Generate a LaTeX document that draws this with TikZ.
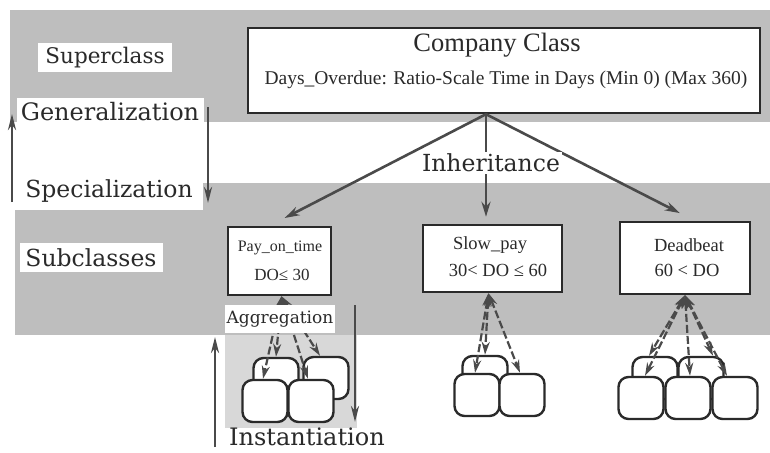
\documentclass[tikz,border=0pt]{standalone}
\usepackage{fontspec}
\setmainfont{Liberation Serif}
\newfontfamily\slabfont{DejaVu Serif}
\usetikzlibrary{arrows.meta}
\definecolor{ink}{HTML}{2A2A2A}
\definecolor{wire}{HTML}{4A4A4A}
\definecolor{halftone}{HTML}{BEBEBE}
\definecolor{halftonelight}{HTML}{D8D8D8}
\tikzset{
  classbox/.style={draw=ink, line width=2.4pt, fill=white, inner sep=0pt},
  boxtext/.style={text=ink, inner sep=0pt, font=\fontsize{18.5}{21}\selectfont},
  sidelabel/.style={font=\slabfont\fontsize{23.5}{27}\selectfont, fill=white, inner sep=0pt, text=ink},
  instbox/.style={draw=ink, line width=2.4pt, fill=white, rounded corners=10pt,
    minimum width=45pt, minimum height=42pt, inner sep=0pt},
  wirearrow/.style={draw=wire, line width=2.6pt, -{Stealth[length=15pt,width=9pt]}},
  sidearrow/.style={draw=wire, line width=2.8pt, -{Stealth[length=16pt,width=8pt]}},
  instarrow/.style={draw=wire, line width=2.2pt, dash pattern=on 8pt off 3pt,
    {Stealth[length=13pt,width=8pt]}-{Stealth[length=13pt,width=8pt]}},
}
\begin{document}
\begin{tikzpicture}[x=1pt,y=-1pt]
\useasboundingbox (0,0) rectangle (770,452);

% shaded bands for the two class levels and the instance area
\fill[halftone] (10,10) rectangle (770,122);
\fill[halftone] (15,183) rectangle (770,335);
\fill[halftonelight] (225,335) rectangle (357,428);

% superclass
\node[classbox, minimum width=512pt, minimum height=85pt] (company) at (504,70.5) {};
\node[boxtext, font=\fontsize{26.5}{30}\selectfont] (cname) at (497,45) {Company Class};
\node[boxtext, font=\fontsize{19.5}{22}\selectfont] (cattr) at (506,80)
  {Days\_Overdue: Ratio-Scale Time in Days (Min 0) (Max 360)};

% subclasses
\node[classbox, minimum width=103pt, minimum height=68pt] (pay) at (279.5,261) {};
\node[boxtext, font=\fontsize{16}{18}\selectfont] (paya) at (280,248) {Pay\_on\_time};
\node[boxtext, font=\fontsize{17}{19}\selectfont] (payb) at (282,275) {DO≤ 30};

\node[classbox, minimum width=139pt, minimum height=67pt] (slow) at (492.5,258.5) {};
\node[boxtext] (slowa) at (490,245) {Slow\_pay};
\node[boxtext] (slowb) at (498,270) {30< DO ≤ 60};

\node[classbox, minimum width=130pt, minimum height=72pt] (dead) at (685,258) {};
\node[boxtext] (deada) at (689,245) {Deadbeat};
\node[boxtext] (deadb) at (687,270) {60 < DO};

% instances: back row first, front row over it
\node[instbox] (pb1) at (276,379) {};
\node[instbox] (pb2) at (326,378) {};
\node[instbox] (pf1) at (265,401) {};
\node[instbox] (pf2) at (311,401) {};

\node[instbox] (sb1) at (485,377) {};
\node[instbox] (sf1) at (477,395) {};
\node[instbox] (sf2) at (522,395) {};

\node[instbox] (db1) at (655,378) {};
\node[instbox] (db2) at (701,378) {};
\node[instbox] (df1) at (641,398) {};
\node[instbox] (df2) at (688,398) {};
\node[instbox] (df3) at (735,398) {};

% inheritance
\coordinate (fork) at ([xshift=-18pt]company.south);
\draw[wirearrow, shorten >=17pt] (fork) -- ([xshift=-10pt]pay.north);
\draw[wirearrow, shorten >=7pt] (fork) -- ([xshift=-6.5pt]slow.north);
\draw[wirearrow, shorten >=17pt] (fork) -- ([xshift=10pt]dead.north);

% aggregation / instantiation links
\draw[instarrow] ([xshift=2pt]pay.south) -- ([xshift=-2pt]pf1.north);
\draw[instarrow] ([xshift=2pt]pay.south) -- (pb1.north);
\draw[instarrow] ([xshift=2pt]pay.south) -- ([xshift=-3pt]pf2.north);
\draw[instarrow] ([xshift=2pt]pay.south) -- ([xshift=-6pt]pb2.north);

\draw[instarrow] ([xshift=-4pt]slow.south) -- ([xshift=-2pt]sf1.north);
\draw[instarrow] ([xshift=-4pt]slow.south) -- (sb1.north);
\draw[instarrow] ([xshift=-4pt]slow.south) -- ([xshift=-2pt]sf2.north);

\draw[instarrow] (dead.south) -- ([xshift=4pt]df1.north);
\draw[instarrow] (dead.south) -- ([xshift=2pt]df2.north);
\draw[instarrow] (dead.south) -- ([xshift=-8pt]df3.north);
\draw[instarrow] (dead.south) -- ([xshift=-6pt]db1.north);
\draw[instarrow] (dead.south) -- ([xshift=12pt]db2.north);

% level labels and direction arrows
\node[sidelabel, font=\slabfont\fontsize{21.5}{25}\selectfont, minimum width=134pt, minimum height=29pt]
  (lsuper) at (105,57.5) {Superclass};
\node[sidelabel, font=\slabfont\fontsize{24}{27}\selectfont, minimum width=187pt, minimum height=27pt]
  (lgen) at (110,111.5) {Generalization};
\node[sidelabel, minimum width=188pt, minimum height=38pt] (lspec) at (109,191) {Specialization};
\node[sidelabel, minimum width=143pt, minimum height=29pt] (lsub) at (91,257.5) {Subclasses};
\node[sidelabel, inner sep=2pt] (linh) at (491,163) {Inheritance};
\node[sidelabel, font=\slabfont\fontsize{17}{20}\selectfont, minimum width=110pt, minimum height=28pt]
  (lagg) at (280,319) {Aggregation};
\node[sidelabel, font=\slabfont\fontsize{24}{27}\selectfont] (linst) at (307,437) {Instantiation};

\coordinate (genfoot) at (12,202);
\coordinate (genhead) at (12,114);
\draw[sidearrow] (genfoot) -- (genhead);
\coordinate (spectop) at (208,107);
\coordinate (specend) at (208,203);
\draw[sidearrow] (spectop) -- (specend);
\coordinate (instfoot) at (215,447);
\coordinate (insthead) at (215,337);
\draw[sidearrow] (instfoot) -- (insthead);
\coordinate (downtop) at (355,305);
\coordinate (downend) at (355,422);
\draw[sidearrow] (downtop) -- (downend);
\end{tikzpicture}
\end{document}
